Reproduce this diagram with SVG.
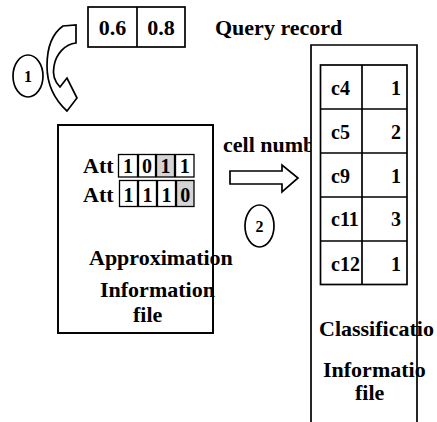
<svg xmlns="http://www.w3.org/2000/svg" width="437" height="422" viewBox="0 0 437 422">
  <style>
    text { font-family: 'Liberation Serif', 'DejaVu Serif', 'Times New Roman', serif; font-weight: bold; fill: #000; }
    .big { font-size: 22px; }
    .mid { font-size: 20px; }
    .sm { font-size: 16px; }
    .line { fill: none; stroke: #000; stroke-width: 1.7; }
    .box { fill: #fff; stroke: #000; stroke-width: 1.7; }
    .cell { fill: #fff; stroke: #000; stroke-width: 1.3; }
    .shade { fill: #d4d4d4; stroke: #000; stroke-width: 1.3; }
    .c { text-anchor: middle; }
    .e { text-anchor: end; }
  </style>

  <!-- query record -->
  <g id="query">
    <rect class="box" x="88" y="7" width="97" height="40"/>
    <line class="line" x1="137" y1="7" x2="137" y2="47"/>
    <text class="big c" x="112.5" y="35">0.6</text>
    <text class="big c" x="161" y="35">0.8</text>
    <text class="big" x="215" y="35">Query record</text>
  </g>

  <!-- step 1 marker -->
  <g id="step1">
    <ellipse class="line" cx="28" cy="76" rx="15" ry="21"/>
    <text class="sm c" x="28" y="82">1</text>
  </g>

  <!-- approximation information file -->
  <g id="approx">
    <rect class="box" x="58" y="125" width="155" height="208"/>
    <text class="big" x="83" y="173">Att</text>
    <text class="big" x="83" y="202">Att</text>
    <rect class="cell" x="118.5" y="154.5" width="19" height="22.5"/>
    <rect class="cell" x="138.5" y="154.5" width="17" height="22.5"/>
    <rect class="shade" x="156.5" y="154.5" width="18" height="22.5"/>
    <rect class="cell" x="175.5" y="154.5" width="18.5" height="22.5"/>
    <text class="mid c" x="128" y="173">1</text>
    <text class="mid c" x="147" y="173">0</text>
    <text class="mid c" x="165.5" y="173">1</text>
    <text class="mid c" x="184.7" y="173">1</text>
    <rect class="cell" x="119.5" y="180.5" width="18" height="26"/>
    <rect class="cell" x="138.5" y="180.5" width="18" height="26"/>
    <rect class="cell" x="157.5" y="180.5" width="18" height="26"/>
    <rect class="shade" x="176.5" y="180.5" width="17.5" height="26"/>
    <text class="mid c" x="128.5" y="202">1</text>
    <text class="mid c" x="147.5" y="202">1</text>
    <text class="mid c" x="166.5" y="202">1</text>
    <text class="mid c" x="185.2" y="202">0</text>
    <text class="big" x="89" y="265">Approximation</text>
    <text class="big" x="100" y="297">Information</text>
    <text class="big" x="133" y="322">file</text>
    <rect class="line" x="58" y="125" width="155" height="208"/>
  </g>

  <!-- step 2 marker -->
  <g id="step2">
    <ellipse class="line" cx="259.5" cy="226" rx="14.5" ry="21"/>
    <text class="sm c" x="259.5" y="232">2</text>
  </g>

  <!-- connectors -->
  <g id="connectors">
    <path class="box" d="M76,25 L76,43 C65,44 56,54 54,66 C52,76 55,82 60,87 L67,78 L77,98 L67,111 C55,100 47,86 47,66 C47,47 53,33 63,26 Z"/>
    <text class="big" x="223" y="152">cell numbe</text>
    <polygon class="box" points="230,171 282,171 282,165 298,178 282,192 282,184 230,184"/>
  </g>

  <!-- classification information file -->
  <g id="classif">
    <rect fill="#fff" x="311" y="45" width="106" height="380"/>
    <rect class="line" x="320.5" y="65" width="86.5" height="219.5"/>
    <line class="line" x1="362" y1="65" x2="362" y2="284.5"/>
    <line class="line" x1="320.5" y1="109" x2="407" y2="109"/>
    <line class="line" x1="320.5" y1="153" x2="407" y2="153"/>
    <line class="line" x1="320.5" y1="197" x2="407" y2="197"/>
    <line class="line" x1="320.5" y1="241" x2="407" y2="241"/>
    <text class="mid" x="331" y="95">c4</text>
    <text class="mid" x="331" y="139">c5</text>
    <text class="mid" x="331" y="183">c9</text>
    <text class="mid" x="331" y="226">c11</text>
    <text class="mid" x="331" y="271">c12</text>
    <text class="mid e" x="401" y="95">1</text>
    <text class="mid e" x="401" y="139">2</text>
    <text class="mid e" x="401" y="183">1</text>
    <text class="mid e" x="401" y="226">3</text>
    <text class="mid e" x="401" y="271">1</text>
    <text class="big" x="319" y="336">Classificatio</text>
    <text class="big" x="323" y="377">Informatio</text>
    <text class="big" x="355" y="400">file</text>
    <path class="line" d="M311,425 L311,45 L417,45 L417,425"/>
  </g>
</svg>
